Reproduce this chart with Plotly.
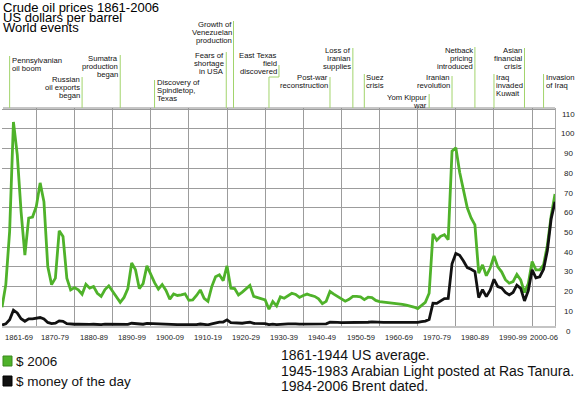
import plotly.graph_objects as go

# ---------------- data ----------------
years = list(range(1861, 2007))

usd_2006 = [
    9.5, 21, 48, 103.5, 87, 58, 36, 54.8, 55.3,                 # 1861-1869
    60.7, 72.6, 63, 30.2, 21, 24.3, 48.3, 45.4, 24.3, 18.3,     # 1870-1879
    19.5, 18.3, 16.1, 21.2, 19.2, 20, 16.6, 15, 18.5, 20.4,     # 1880-1889
    17.5, 14.5, 12, 14.5, 19, 32, 28.5, 19, 21.5, 30.5,         # 1890-1899
    26, 22, 18.7, 21, 18, 13.6, 16.3, 15.5, 15.8, 16.3,         # 1900-1909
    13, 13.2, 15.5, 18.3, 14, 12.5, 20, 25, 26, 23,             # 1910-1919
    30.5, 19.2, 19, 15.8, 17.2, 19, 20.6, 15, 14.5, 14,         # 1920-1929
    13.2, 8.5, 12.4, 10.2, 14.8, 14.1, 15.5, 16.6, 16, 14.5,    # 1930-1939
    15.5, 16.2, 15.5, 15, 13.8, 11.3, 12.5, 17.5, 16.2, 15,     # 1940-1949
    14, 12.6, 13.5, 15, 15, 14.8, 13.4, 14.6, 14.4, 13,         # 1950-1959
    12.4, 12.2, 12, 11.9, 11.6, 11.4, 11, 10.6, 10.2, 9.6,      # 1960-1969
    8.8, 10.6, 12, 16.6, 46.7, 43.5, 45.5, 46.3, 43.8, 88.7,    # 1970-1979
    90.4, 78, 68, 60, 54.8, 51.3, 26.8, 31, 25.5, 29.4,         # 1980-1989
    35.5, 30, 27.5, 23.5, 21.7, 22.5, 26.2, 23.4, 17, 21.5,     # 1990-1999
    32.7, 28.5, 28.5, 31, 41, 56, 67,                           # 2000-2006
]

usd_nominal = [
    0.5, 1.1, 3.2, 8.0, 6.6, 3.7, 2.4, 3.6, 3.6,                # 1861-1869
    3.9, 4.3, 3.6, 1.8, 1.2, 1.4, 2.6, 2.4, 1.2, 0.9,           # 1870-1879
    0.9, 0.9, 0.8, 1.0, 0.8, 0.9, 0.7, 0.7, 0.9, 0.9,           # 1880-1889
    0.9, 0.7, 0.6, 0.6, 0.8, 1.4, 1.2, 0.8, 0.9, 1.3,           # 1890-1899
    1.2, 1.0, 0.8, 0.9, 0.9, 0.6, 0.7, 0.7, 0.7, 0.7,           # 1900-1909
    0.6, 0.6, 0.7, 1.0, 0.8, 0.6, 1.1, 1.6, 2.0, 2.0,           # 1910-1919
    3.1, 1.7, 1.6, 1.3, 1.4, 1.7, 1.9, 1.3, 1.2, 1.3,           # 1920-1929
    1.2, 0.7, 0.9, 0.7, 1.0, 1.0, 1.1, 1.2, 1.1, 1.0,           # 1930-1939
    1.0, 1.1, 1.2, 1.2, 1.2, 1.1, 1.1, 1.9, 2.0, 1.8,           # 1940-1949
    1.7, 1.7, 1.7, 1.9, 1.9, 1.9, 1.9, 1.9, 2.1, 1.9,           # 1950-1959
    1.8, 1.8, 1.8, 1.8, 1.8, 1.8, 1.8, 1.8, 1.8, 1.8,           # 1960-1969
    1.8, 2.2, 2.5, 3.3, 11.6, 11.5, 12.8, 13.9, 14.0, 31.6,     # 1970-1979
    36.8, 35.9, 33.0, 29.6, 28.8, 27.6, 14.4, 18.4, 14.9, 18.2, # 1980-1989
    23.7, 20.0, 19.3, 17.0, 15.8, 17.0, 20.7, 19.1, 12.7, 18.0, # 1990-1999
    28.5, 24.4, 25.0, 28.8, 38.3, 54.5, 63,                     # 2000-2006
]
assert len(usd_2006) == len(years) == len(usd_nominal)

decade_labels = ["1861-69", "1870-79", "1880-89", "1890-99", "1900-09",
                 "1910-19", "1920-29", "1930-39", "1940-49", "1950-59",
                 "1960-69", "1970-79", "1980-89", "1990-99", "2000-06"]
decade_centers = [1865.5, 1875, 1885, 1895, 1905, 1915, 1925, 1935, 1945,
                  1955, 1965, 1975, 1985, 1995, 2003]
decade_lines = [1870, 1880, 1890, 1900, 1910, 1920, 1930, 1940, 1950,
                1960, 1970, 1980, 1990, 2000]
y_ticks = [0, 10, 20, 30, 40, 50, 60, 70, 80, 90, 100, 110]

event_years = [1863, 1882, 1892, 1901, 1919.8, 1921.7, 1931, 1947, 1953,
               1956, 1973, 1979, 1985, 1990, 1998, 2003]
event_texts = [
    "Pennsylvanian\noil boom",
    "Russian\noil exports\nbegan",
    "Sumatra\nproduction\nbegan",
    "Discovery of\nSpindletop,\nTexas",
    "Fears of\nshortage\nin USA",
    "Growth of\nVenezuelan\nproduction",
    "East Texas\nfield\ndiscovered",
    "Post-war\nreconstruction",
    "Loss of\nIranian\nsupplies",
    "Suez\ncrisis",
    "Yom Kippur\nwar",
    "Iranian\nrevolution",
    "Netback\npricing\nintroduced",
    "Iraq\ninvaded\nKuwait",
    "Asian\nfinancial\ncrisis",
    "Invasion\nof Iraq",
]

title_lines = ["Crude oil prices 1861-2006", "US dollars per barrel", "World events"]
legend_names = ["$ 2006", "$ money of the day"]
source_notes = ["1861-1944 US average.",
                "1945-1983 Arabian Light posted at Ras Tanura.",
                "1984-2006 Brent dated."]

# ---------------- layout geometry / styles ----------------
W, H = 580, 398
ML, MR, MT, MB = 2, 25, 108, 72
PW, PH = W - ML - MR, H - MT - MB
YMAX = 110.6

GREEN = "#4fb22a"
BLACK = "#111111"
EVENT_GREEN = "#a2d46c"
GRID = "#9c9c9c"
FONT = "Liberation Sans, Arial, sans-serif"


def pxx(px):
    return (px - ML) / PW


def pyy(py):
    return (H - MB - py) / PH


# (top of marker line px, centre of first text line px, side of text, elbow px)
event_layout = [
    (56, 60, "r", 0), (77, 79, "l", 0), (55, 58, "l", 0), (80, 83, "r", 0),
    (52, 55, "l", 0), (21, 24, "l", 0), (65, 55, "l", 10), (77, 78, "l", 0),
    (48, 50, "l", 0), (74, 78, "r", 0), (94, 97, "l", 0), (76, 78, "l", 0),
    (47, 50, "l", 0), (74, 78, "r", 0), (48, 50, "l", 0), (74, 78, "r", 0),
]
LINE_STEP = 8
YEAR_PX = PW / (2006 - 1861)

fig = go.Figure()
fig.add_trace(go.Scatter(x=years, y=usd_2006, mode="lines",
                         line=dict(color=GREEN, width=2.8), name=legend_names[0]))
fig.add_trace(go.Scatter(x=years, y=usd_nominal, mode="lines",
                         line=dict(color=BLACK, width=2.8), name=legend_names[1]))

shapes = []
annotations = []

# top frame
shapes.append(dict(type="line", xref="paper", yref="paper", x0=pxx(3), x1=1,
                   y0=1, y1=1, line=dict(color="#8c8c8c", width=1)))

# events
for yr, txt, (top, first, side, elbow) in zip(event_years, event_texts, event_layout):
    if elbow:
        bend = 77
        dx = elbow / YEAR_PX
        shapes.append(dict(type="line", xref="x", yref="paper", x0=yr, x1=yr,
                           y0=1, y1=pyy(bend), line=dict(color=EVENT_GREEN, width=1)))
        shapes.append(dict(type="line", xref="x", yref="paper", x0=yr, x1=yr + dx,
                           y0=pyy(bend), y1=pyy(bend), line=dict(color=EVENT_GREEN, width=1)))
        shapes.append(dict(type="line", xref="x", yref="paper", x0=yr + dx, x1=yr + dx,
                           y0=pyy(bend), y1=pyy(top), line=dict(color=EVENT_GREEN, width=1)))
        tx = yr + dx
    else:
        shapes.append(dict(type="line", xref="x", yref="paper", x0=yr, x1=yr,
                           y0=1, y1=pyy(top), line=dict(color=EVENT_GREEN, width=1)))
        tx = yr
    for i, line in enumerate(txt.split("\n")):
        annotations.append(dict(
            x=tx, xref="x", y=pyy(first + i * LINE_STEP), yref="paper",
            text=line, showarrow=False,
            xanchor="left" if side == "r" else "right",
            xshift=1 if side == "r" else -1, yanchor="middle",
            align="left" if side == "r" else "right",
            font=dict(size=7.7, color="#111", family=FONT), borderpad=0))

# decade labels under the axis
for c, lab in zip(decade_centers, decade_labels):
    annotations.append(dict(x=c, xref="x", y=pyy(332), yref="paper", text=lab,
                            showarrow=False, xanchor="center", yanchor="top",
                            borderpad=0,
                            font=dict(size=7.6, color="#222", family=FONT)))

# y value labels (placed just under each grid line, right of plot)
for v in y_ticks:
    annotations.append(dict(x=pxx(568), xref="paper", y=v, yref="y", text=str(v),
                            showarrow=False, xanchor="center", yanchor="middle",
                            yshift=-5, font=dict(size=8, color="#222", family=FONT)))

# title block
for i, t in enumerate(title_lines):
    annotations.append(dict(x=pxx(2), xref="paper", y=pyy(7.5 + 10 * i), yref="paper",
                            text=t, showarrow=False, xanchor="left", yanchor="middle",
                            font=dict(size=13, color="#000", family=FONT), borderpad=0))

# legend (custom squares)
legend_fill = [GREEN, BLACK]
legend_edge = ["#3a8a1c", "#000"]
for i, name in enumerate(legend_names):
    cy = 361 + 20 * i
    shapes.append(dict(type="rect", xref="paper", yref="paper",
                       x0=pxx(3), x1=pxx(12), y0=pyy(cy - 5), y1=pyy(cy + 5),
                       fillcolor=legend_fill[i], line=dict(color=legend_edge[i], width=1)))
    annotations.append(dict(x=pxx(15), xref="paper", y=pyy(cy), yref="paper",
                            text=name, showarrow=False, xanchor="left", yanchor="middle",
                            font=dict(size=13.5, color="#111", family=FONT), borderpad=0))

# source notes
for i, t in enumerate(source_notes):
    annotations.append(dict(x=pxx(280), xref="paper", y=pyy(355 + 15.5 * i), yref="paper",
                            text=t, showarrow=False, xanchor="left", yanchor="middle",
                            font=dict(size=14, color="#111", family=FONT), borderpad=0))

fig.update_layout(
    width=W, height=H,
    margin=dict(l=ML, r=MR, t=MT, b=MB, pad=0),
    paper_bgcolor="white", plot_bgcolor="white",
    showlegend=False,
    font=dict(family=FONT, color="#111"),
    shapes=shapes, annotations=annotations,
    xaxis=dict(range=[1861, 2006], showgrid=True, gridcolor=GRID, gridwidth=1,
               zeroline=False, tickmode="array", tickvals=decade_lines,
               showticklabels=False, ticks="",
               showline=True, linecolor="#c4c4c4", linewidth=2),
    yaxis=dict(range=[0, YMAX], side="right", showgrid=True, gridcolor=GRID,
               gridwidth=1, zeroline=False, tickmode="array", tickvals=y_ticks,
               showticklabels=False, ticks="",
               showline=True, linecolor="#a8a8a8", linewidth=1),
)

fig.write_html("out.html", config={"displayModeBar": False},
               post_script="document.body.style.margin='0';document.body.style.padding='0';")
